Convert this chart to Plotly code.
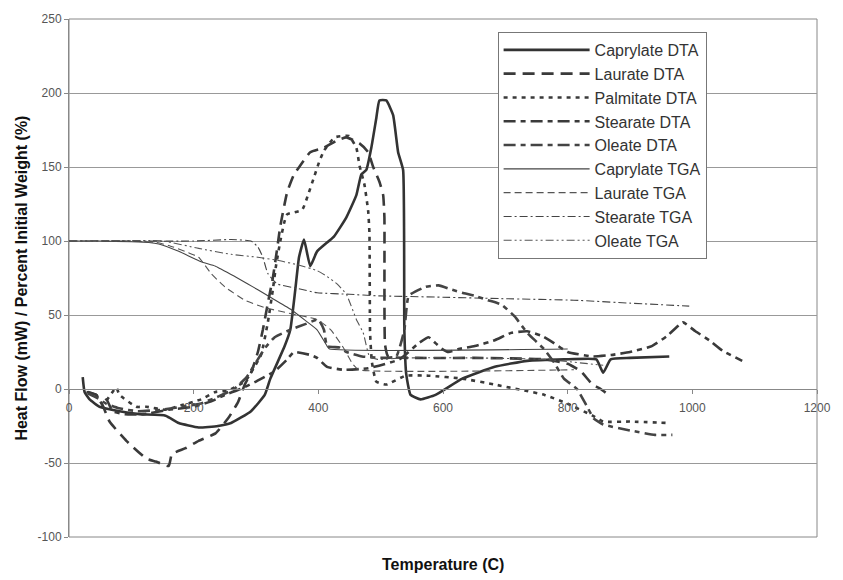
import plotly.graph_objects as go

# ---------------- data ----------------
cap_dta_x = [22, 25, 33, 49, 81, 113, 155, 176, 208, 239, 260, 292, 314, 323, 346, 355, 363, 369, 377, 387,
             398, 425, 445, 461, 469, 477, 485, 493, 498, 509, 520, 528, 536, 538, 541, 548, 564, 588, 631,
             683, 735, 794, 846, 857, 869, 900, 963]
cap_dta_y = [8, -2, -7, -12, -15, -17, -18, -23, -26, -25, -23, -15, -4, 7, 29, 40, 67, 89, 101, 83,
             93, 103, 116, 131, 145, 148, 163, 183, 195, 195, 185, 160, 148, 40, 10, -4, -7, -4, 7,
             15, 19, 20, 20, 11, 20, 21, 22]

lau_dta_x = [28, 44, 54, 65, 92, 124, 139, 160, 165, 187, 208, 235, 255, 271, 282, 292, 303, 311, 319, 327,
             334, 339, 350, 361, 371, 387, 409, 430, 445, 466, 480, 488, 498, 504, 506, 507, 512, 560, 650,
             763, 800, 821, 840, 853, 869]
lau_dta_y = [-2, -4, -11, -22, -35, -47, -49, -52, -44, -40, -35, -30, -20, -9, 3, 11, 25, 40, 58, 75,
             95, 110, 133, 145, 151, 160, 163, 168, 170, 166, 160, 150, 140, 131, 116, 30, 22, 21, 21,
             20, 17, 12, 3, 0, -5]

pal_dta_x = [60, 76, 81, 108, 124, 155, 180, 212, 235, 255, 282, 292, 308, 319, 327, 332, 339, 345, 350,
             374, 385, 393, 401, 409, 426, 449, 461, 466, 474, 480, 482, 483, 486, 493, 509, 540, 577, 631,
             683, 763, 800, 840, 857, 900, 965]
pal_dta_y = [-8, 1, -4, -12, -12, -14, -11, -7, -2, -1, 5, 11, 23, 45, 67, 83, 100, 112, 118,
             121, 133, 143, 153, 161, 170, 171, 163, 151, 138, 120, 105, 38, 18, 5, 3, 9, 9, 7,
             3, -4, -10, -18, -22, -22, -23]

ste_dta_x = [30, 44, 54, 60, 70, 90, 120, 160, 200, 230, 250, 275, 300, 330, 350, 361, 387, 398, 414,
             440, 480, 530, 561, 577, 588, 599, 609, 625, 651, 683, 710, 735, 758, 778, 800, 840, 870,
             900, 935, 960, 985, 1005, 1027, 1048, 1080]
ste_dta_y = [-2, -4, -11, -7, -15, -17, -17, -14, -12, -8, -4, 0, 5, 12, 20, 25, 23, 21, 15,
             13, 14, 20, 31, 35, 31, 27, 25, 27, 29, 33, 38, 39, 36, 31, 25, 22, 23,
             25, 29, 36, 45, 39, 33, 26, 19]

ole_dta_x = [30, 45, 60, 80, 110, 150, 180, 210, 240, 265, 285, 300, 315, 330, 355, 380, 400, 409, 414,
             434, 445, 470, 500, 525, 538, 545, 572, 593, 615, 631, 651, 672, 694, 715, 735, 762, 778,
             794, 815, 830, 842, 857, 900, 940, 968]
ole_dta_y = [-3, -6, -10, -13, -15, -14, -12, -10, -5, 0, 8, 18, 28, 35, 40, 44, 47, 40, 29,
             28, 25, 22, 21, 22, 40, 63, 69, 70, 67, 65, 63, 60, 57, 49, 38, 27, 18,
             7, 0, -11, -20, -24, -28, -31, -31]

cap_tga_x = [0, 50, 100, 128, 144, 176, 212, 235, 266, 287, 303, 323, 355, 380, 398, 414, 418, 800]
cap_tga_y = [100, 100, 99.5, 99, 98, 93, 86, 83, 76, 71, 67, 62, 54, 46, 40, 29, 27, 27]

lau_tga_x = [0, 100, 140, 160, 192, 208, 228, 250, 282, 314, 355, 398, 420, 440, 455, 465, 810]
lau_tga_y = [100, 100, 99, 97, 92, 89, 78, 69, 60, 55, 51, 47, 40, 28, 17, 13, 13]

ste_tga_x = [0, 200, 260, 292, 303, 311, 319, 334, 366, 398, 450, 493, 600, 700, 810, 900, 995]
ste_tga_y = [100, 100, 101, 100, 96, 89, 78, 71, 68, 65, 64, 63, 62, 61, 60, 58, 56]

ole_tga_x = [0, 150, 208, 260, 303, 334, 366, 398, 414, 430, 445, 461, 472, 482, 495, 536, 650, 763, 857]
ole_tga_y = [100, 100, 95, 91, 89, 87, 84, 80, 76, 71, 64, 47, 38, 22, 20, 21, 21, 20, 16]

x_ticks = [0, 200, 400, 600, 800, 1000, 1200]
y_ticks = [-100, -50, 0, 50, 100, 150, 200, 250]

# ---------------- figure ----------------
FONT = "Arial, Liberation Sans, sans-serif"
series = [
    ("Caprylate DTA", cap_dta_x, cap_dta_y, "solid", 2.6, "#333333"),
    ("Laurate DTA", lau_dta_x, lau_dta_y, "12px,7px", 2.6, "#3a3a3a"),
    ("Palmitate DTA", pal_dta_x, pal_dta_y, "4px,5px", 2.6, "#3a3a3a"),
    ("Stearate DTA", ste_dta_x, ste_dta_y, "12px,5px,5px,5px", 2.6, "#3a3a3a"),
    ("Oleate DTA", ole_dta_x, ole_dta_y, "12px,5px,5px,5px", 2.6, "#444444"),
    ("Caprylate TGA", cap_tga_x, cap_tga_y, "solid", 1.1, "#444444"),
    ("Laurate TGA", lau_tga_x, lau_tga_y, "7px,4px", 1.1, "#555555"),
    ("Stearate TGA", ste_tga_x, ste_tga_y, "8px,3px,2px,3px", 1.1, "#444444"),
    ("Oleate TGA", ole_tga_x, ole_tga_y, "8px,3px,2px,3px,2px,3px", 1.1, "#555555"),
]

fig = go.Figure()
for name, xs, ys, dash, w, c in series:
    fig.add_trace(go.Scatter(x=xs, y=ys, mode="lines", name=name,
                             line=dict(color=c, width=w, dash=dash, shape="spline", smoothing=0.4)))

fig.update_layout(
    width=843, height=580,
    margin=dict(l=69, r=17, t=12, b=43),
    paper_bgcolor="white", plot_bgcolor="white",
    font=dict(family=FONT, color="#555555", size=12),
    showlegend=True,
    legend=dict(x=0.573, y=0.975, xanchor="left", yanchor="top",
                bgcolor="white", bordercolor="#777777", borderwidth=1,
                font=dict(family=FONT, size=16, color="#333333"),
                itemwidth=86, tracegroupgap=0),
    xaxis=dict(range=[0, 1200], tickvals=x_ticks, ticktext=[str(v) for v in x_ticks],
               showgrid=False, zeroline=False, showline=True, linecolor="#888888",
               ticks="outside", ticklen=4, tickcolor="#888888", ticklabelstandoff=4,
               anchor="free", position=100 / 350.0,
               tickfont=dict(family=FONT, size=12, color="#555555")),
    yaxis=dict(range=[-100, 250], tickvals=y_ticks, ticktext=[str(v) for v in y_ticks],
               showgrid=True, gridcolor="#999999", gridwidth=1,
               zeroline=False, showline=True, linecolor="#888888",
               ticks="outside", ticklen=4, tickcolor="#888888",
               tickfont=dict(family=FONT, size=12, color="#555555")),
    shapes=[dict(type="rect", xref="paper", yref="paper", x0=0, y0=0, x1=1, y1=1,
                 line=dict(color="#888888", width=1), layer="below")],
    annotations=[
        dict(text="<b>Temperature (C)</b>", xref="paper", yref="paper", x=0.5, y=-0.053,
             xanchor="center", yanchor="middle", showarrow=False,
             font=dict(family=FONT, size=16, color="#111111")),
        dict(text="<b>Heat Flow (mW) / Percent Initial Weight (%)</b>", xref="paper", yref="paper",
             x=-0.0647, y=0.5, xanchor="center", yanchor="middle", textangle=-90, showarrow=False,
             font=dict(family=FONT, size=16, color="#111111")),
    ],
)

fig.write_html("out.html")
